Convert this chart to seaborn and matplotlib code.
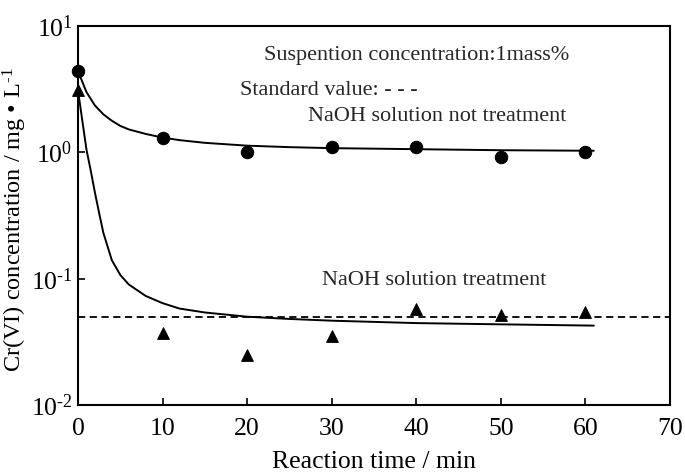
import numpy as np
import pandas as pd
import seaborn as sns
import matplotlib
matplotlib.use("Agg")
import matplotlib.pyplot as plt
from matplotlib.ticker import FixedLocator, FixedFormatter, NullLocator

# ---- data ----
time_points = [0, 10, 20, 30, 40, 50, 60]
not_treated = [4.4, 1.30, 1.0, 1.1, 1.1, 0.92, 1.0]
treated = [3.1, 0.037, 0.025, 0.035, 0.058, 0.052, 0.054]

curve_nt_x = [0, 1, 2, 3, 4, 5, 6, 8, 10, 12, 15, 20, 25, 30, 40, 50, 61]
curve_nt_y = [4.4, 3.0, 2.35, 2.0, 1.78, 1.62, 1.52, 1.40, 1.31, 1.25, 1.19, 1.13, 1.10, 1.08, 1.06, 1.04, 1.03]

curve_t_x = [0, 0.5, 1, 1.5, 2, 2.5, 3, 4, 5, 6, 8, 10, 12, 15, 20, 25, 30, 40, 50, 61]
curve_t_y = [3.1, 1.8, 1.05, 0.72, 0.48, 0.33, 0.23, 0.14, 0.107, 0.09, 0.073, 0.064,
             0.058, 0.054, 0.050, 0.048, 0.0465, 0.0445, 0.0435, 0.0425]

standard_value = 0.05
x_ticks = [0, 10, 20, 30, 40, 50, 60, 70]
y_ticks = [0.01, 0.1, 1, 10]
y_tick_labels = ['10$^{\\text{-2}}$', '10$^{\\text{-1}}$', '10$^{\\text{0}}$', '10$^{\\text{1}}$']

sns.set_theme(style="ticks")
plt.rcParams['font.family'] = ['Liberation Serif', 'DejaVu Serif']
plt.rcParams['mathtext.fontset'] = 'custom'
plt.rcParams['mathtext.rm'] = 'Liberation Serif'
plt.rcParams['mathtext.it'] = 'Liberation Serif:italic'
plt.rcParams['mathtext.bf'] = 'Liberation Serif:bold'

fig = plt.figure(figsize=(6.85, 4.74), dpi=100)
ax = fig.add_axes([0.1139, 0.1456, 0.8641, 0.7994])
ax.set_yscale('log')

df_nt = pd.DataFrame({'t': time_points, 'c': not_treated})
df_t = pd.DataFrame({'t': time_points, 'c': treated})
cnt = pd.DataFrame({'t': curve_nt_x, 'c': curve_nt_y})
ct = pd.DataFrame({'t': curve_t_x, 'c': curve_t_y})

sns.lineplot(data=cnt, x='t', y='c', ax=ax, color='black', lw=1.4, estimator=None, sort=False)
sns.lineplot(data=ct, x='t', y='c', ax=ax, color='black', lw=1.4, estimator=None, sort=False)
sns.scatterplot(data=df_nt, x='t', y='c', ax=ax, marker='o', s=80, color='black',
                edgecolor='black', clip_on=False, zorder=5)
sns.scatterplot(data=df_t, x='t', y='c', ax=ax, marker='^', s=72, color='black',
                edgecolor='black', clip_on=False, zorder=5)
ax.axhline(standard_value, color='black', lw=1.3, ls=(0, (4, 2.5)))

ax.set_xlim(0, 70)
ax.set_ylim(0.01, 10)
ax.set_xticks(x_ticks)
ax.yaxis.set_major_locator(FixedLocator(y_ticks))
ax.yaxis.set_major_formatter(FixedFormatter(y_tick_labels))
ax.yaxis.set_minor_locator(NullLocator())
ax.xaxis.set_minor_locator(NullLocator())
ax.tick_params(axis='both', which='major', direction='in', length=5, width=1.2,
               labelsize=18.5, colors='black')
ax.tick_params(axis='x', pad=9.5)
ax.tick_params(axis='y', pad=4)
for sp in ax.spines.values():
    sp.set_visible(True)
    sp.set_color('black')
    sp.set_linewidth(1.5)

ax.set_xlabel('Reaction time / min', fontsize=18.5, color='black', labelpad=8)
ax.set_ylabel('Cr(VI) concentration / mg • L$^{\\text{-1}}$', fontsize=17.5, color='black')
ax.yaxis.set_label_coords(-0.083, 0.488)

ax.text(40.1, 5.9, 'Suspention concentration:1mass%', fontsize=16, ha='center', va='center')
ax.text(19.1, 3.1, 'Standard value: - - -', fontsize=16, ha='left', va='center')
ax.text(42.5, 1.92, 'NaOH solution not treatment', fontsize=16, ha='center', va='center')
ax.text(42.1, 0.096, 'NaOH solution treatment', fontsize=16, ha='center', va='center')

fig.savefig('out.png', dpi=100)
